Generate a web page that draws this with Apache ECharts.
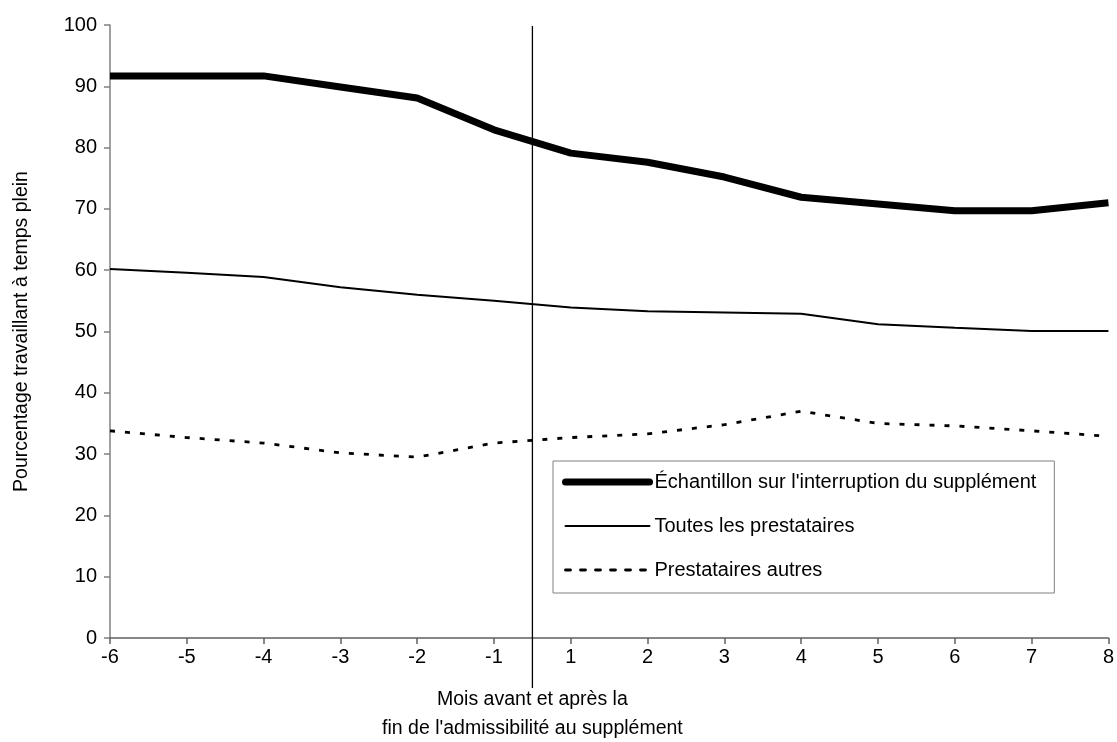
<!DOCTYPE html>
<html>
<head>
<meta charset="utf-8">
<script src="https://cdn.jsdelivr.net/npm/echarts@6/dist/echarts.min.js"></script>
<style>
  html, body { margin: 0; padding: 0; background: #fff; }
  #chart { width: 1117px; height: 742px; }
</style>
</head>
<body>
<div id="chart"></div>
<script>
// Months before and after the end of supplement eligibility
const months = ['-6', '-5', '-4', '-3', '-2', '-1', '1', '2', '3', '4', '5', '6', '7', '8'];

// Percentage working full time
const echantillon = [91.7, 91.7, 91.7, 89.9, 88.1, 82.9, 79.1, 77.6, 75.2, 71.9, 70.8, 69.7, 69.7, 71.0];
const toutes = [60.2, 59.6, 58.9, 57.2, 56.0, 55.0, 53.9, 53.3, 53.1, 52.9, 51.2, 50.6, 50.1, 50.1];
const autres = [33.8, 32.7, 31.8, 30.2, 29.5, 31.8, 32.7, 33.3, 34.8, 37.0, 35.0, 34.6, 33.8, 32.9];

const seriesNames = [
  "Échantillon sur l'interruption du supplément",
  'Toutes les prestataires',
  'Prestataires autres'
];

const yTicks = { min: 0, max: 100, interval: 10 };

const xAxisTitle = ['Mois avant et après la', "fin de l'admissibilité au supplément"];
const yAxisTitle = 'Pourcentage travaillant à temps plein';

const FONT = '"Liberation Sans", Arial, sans-serif';
const AXIS_GREY = '#808080';

const chart = echarts.init(document.getElementById('chart'), null, { renderer: 'canvas' });

chart.setOption({
  animation: false,
  backgroundColor: '#ffffff',
  textStyle: { fontFamily: FONT, color: '#000' },
  grid: { left: 110, right: 4, top: 25, bottom: 104, containLabel: false },
  legend: {
    orient: 'vertical',
    left: 553,
    top: 461,
    padding: [11, 18, 13, 9],
    itemGap: 24,
    itemWidth: 84,
    itemHeight: 14,
    backgroundColor: '#fff',
    borderColor: '#808080',
    borderWidth: 1,
    borderRadius: 0,
    itemStyle: { opacity: 0 },
    lineStyle: { width: 'inherit', type: 'inherit', cap: 'round' },
    textStyle: { fontFamily: FONT, fontSize: 20, color: '#000' },
    data: seriesNames
  },
  xAxis: {
    type: 'category',
    data: months,
    boundaryGap: false,
    axisLine: { show: true, lineStyle: { color: '#606060', width: 1.5 } },
    axisTick: { show: true, alignWithLabel: true, length: 6, lineStyle: { color: '#606060', width: 1.5 } },
    axisLabel: { fontFamily: FONT, fontSize: 20, color: '#000', margin: 9 },
    splitLine: { show: false }
  },
  yAxis: {
    type: 'value',
    min: yTicks.min,
    max: yTicks.max,
    interval: yTicks.interval,
    name: yAxisTitle,
    nameLocation: 'middle',
    nameGap: 78,
    nameTextStyle: { fontFamily: FONT, fontSize: 19.5, color: '#000' },
    axisLine: { show: true, lineStyle: { color: AXIS_GREY, width: 1.5 } },
    axisTick: { show: true, length: 6, lineStyle: { color: AXIS_GREY, width: 1.5 } },
    axisLabel: { fontFamily: FONT, fontSize: 20, color: '#000', margin: 13 },
    splitLine: { show: false }
  },
  series: [
    {
      name: seriesNames[0],
      type: 'line',
      data: echantillon,
      symbol: 'none',
      lineStyle: { color: '#000', width: 7, join: 'round' },
      itemStyle: { color: '#000' },
      z: 4
    },
    {
      name: seriesNames[1],
      type: 'line',
      data: toutes,
      symbol: 'none',
      lineStyle: { color: '#000', width: 2 },
      itemStyle: { color: '#000' },
      z: 3
    },
    {
      name: seriesNames[2],
      type: 'line',
      data: autres,
      symbol: 'none',
      lineStyle: { color: '#000', width: 2.8, type: [5, 10] },
      itemStyle: { color: '#000' },
      z: 3
    }
  ]
});

// Divider between the last month before and the first month after the end of eligibility,
// placed halfway between the '-1' and '1' categories, with the axis title centred beneath it.
function placeDivider() {
  const iBefore = months.indexOf('-1');
  const iAfter = months.indexOf('1');
  const xBefore = chart.convertToPixel({ xAxisIndex: 0 }, iBefore);
  const xAfter = chart.convertToPixel({ xAxisIndex: 0 }, iAfter);
  const xMid = (xBefore + xAfter) / 2;
  const yTop = chart.convertToPixel({ yAxisIndex: 0 }, yTicks.max);
  const yBase = chart.convertToPixel({ yAxisIndex: 0 }, yTicks.min);

  chart.setOption({
    graphic: [
      {
        type: 'line',
        z: 10,
        shape: { x1: xMid, y1: yTop + 1, x2: xMid, y2: yBase + 50 },
        style: { stroke: '#000', lineWidth: 1.3 }
      },
      {
        type: 'text',
        z: 10,
        x: xMid,
        y: yBase + 47,
        style: {
          text: xAxisTitle.join('\n'),
          font: '19.5px ' + FONT,
          fill: '#000',
          align: 'center',
          verticalAlign: 'top',
          lineHeight: 29
        }
      }
    ]
  });
}
placeDivider();
</script>
</body>
</html>
